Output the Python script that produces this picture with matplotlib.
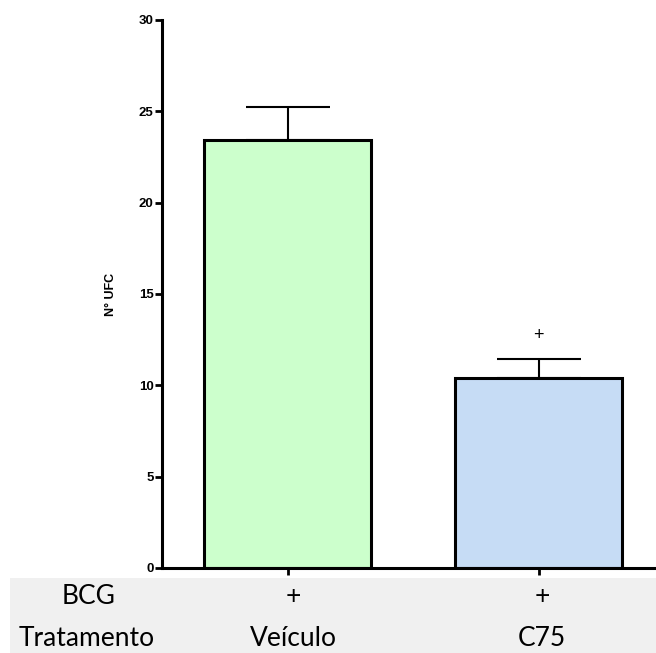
import matplotlib
matplotlib.use("Agg")
import matplotlib.pyplot as plt
from matplotlib.patches import Rectangle

categories = ["Veículo", "C75"]
bcg_row = ["+", "+"]
means = [23.45, 10.42]
sem = [1.8, 1.02]
bar_colors = ["#ccffcc", "#c6dcf5"]
yticks = [0, 5, 10, 15, 20, 25, 30]
sig_marker = ["", "+"]
sig_y = [None, 12.75]

W, H = 656, 653
fig = plt.figure(figsize=(W / 100, H / 100), dpi=100)

def fx(px):
    return px / W

def fy(py):
    return 1 - py / H

# gray table background
fig.patches.append(Rectangle((fx(10), 0), 1 - fx(10), fy(578), transform=fig.transFigure,
                             facecolor="#f0f0f0", edgecolor="none", zorder=0))

ax = fig.add_axes([fx(162), fy(568), fx(656) - fx(162), fy(20) - fy(568)])
ax.set_facecolor("none")
x = list(range(len(categories)))
ax.bar(x, means, width=0.665, color=bar_colors, edgecolor="black", linewidth=2.2, zorder=2)
ax.errorbar(x, means, yerr=[[0] * len(sem), sem], fmt="none", ecolor="black",
            elinewidth=1.5, capsize=30, capthick=1.5, zorder=1)
for xi, m, yy in zip(x, sig_marker, sig_y):
    if m:
        ax.text(xi, yy, m, ha="center", va="center", fontsize=13, family="Liberation Sans")

ax.set_xlim(-0.5, 1.468)
ax.set_ylim(0, 30)
ax.set_yticks(yticks)
ax.set_yticklabels([str(t) for t in yticks], fontsize=9.5, fontweight="bold", family="Liberation Sans")
ax.set_xticks(x)
ax.set_xticklabels([])
ax.tick_params(axis="both", direction="out", length=5, width=2, pad=1)
for s in ["top", "right"]:
    ax.spines[s].set_visible(False)
for s in ["left", "bottom"]:
    ax.spines[s].set_linewidth(2.2)
ax.set_ylabel("N° UFC", fontsize=9, fontweight="bold", family="Liberation Sans", labelpad=16)

# table text
tfont = dict(family="Lato", fontsize=19, ha="center", va="center", color="black")
fig.text(fx(89), fy(597), "BCG", **tfont)
fig.text(fx(87), fy(638), "Tratamento", **tfont)
xpix = [293, 542]
for xp, b, c in zip(xpix, bcg_row, categories):
    fig.text(fx(xp), fy(597), b, **tfont)
    fig.text(fx(xp), fy(638), c, **tfont)

fig.savefig("out.png", dpi=100)
